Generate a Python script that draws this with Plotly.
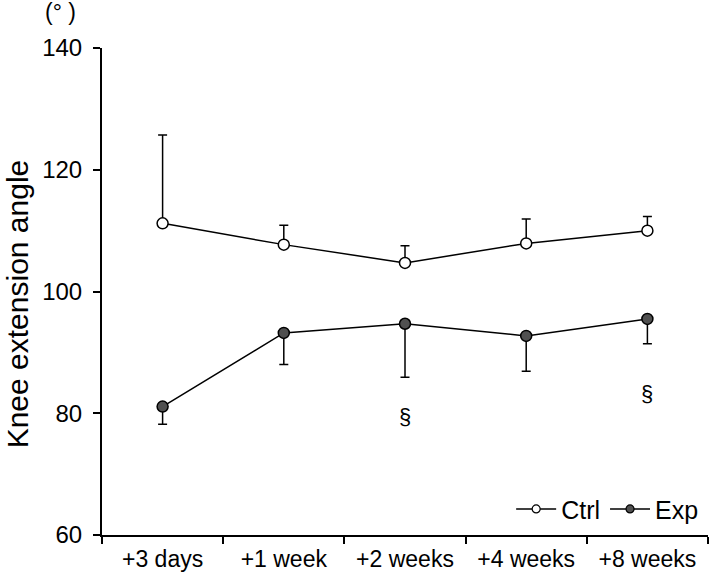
import plotly.graph_objects as go

# time points
periodi = ['+3 days', '+1 week', '+2 weeks', '+4 weeks', '+8 weeks']

# Ctrl group: mean and upper error (SD)
ctrl_media = [111.2, 107.7, 104.7, 107.9, 110.0]
ctrl_err = [14.5, 3.2, 2.8, 4.0, 2.3]

# Exp group: mean and lower error (SD)
exp_media = [81.1, 93.2, 94.7, 92.7, 95.5]
exp_err = [2.9, 5.2, 8.8, 5.8, 4.1]

# significance marks
sig_idx = [2, 4]
sig_y = [79.4, 83.2]

FONT = "Liberation Sans, Arial, sans-serif"

fig = go.Figure()

fig.add_trace(go.Scatter(
    x=periodi, y=ctrl_media, name='Ctrl',
    mode='lines+markers', showlegend=False,
    line=dict(color='black', width=1.5),
    marker=dict(size=11, color='white', line=dict(color='black', width=1.5)),
    error_y=dict(type='data', symmetric=False, array=ctrl_err,
                 arrayminus=[0] * len(ctrl_err),
                 color='black', thickness=1.5, width=4.5),
))

fig.add_trace(go.Scatter(
    x=periodi, y=exp_media, name='Exp',
    mode='lines+markers', showlegend=False,
    line=dict(color='black', width=1.5),
    marker=dict(size=11, color='#505050', line=dict(color='black', width=1.5)),
    error_y=dict(type='data', symmetric=False, array=[0] * len(exp_err),
                 arrayminus=exp_err,
                 color='black', thickness=1.5, width=4.5),
))

# legend entries (smaller symbols, as in the figure)
fig.add_trace(go.Scatter(
    x=[None], y=[None], name='Ctrl',
    mode='lines+markers',
    line=dict(color='black', width=1.5),
    marker=dict(size=8, color='white', line=dict(color='black', width=1.2)),
))
fig.add_trace(go.Scatter(
    x=[None], y=[None], name='Exp',
    mode='lines+markers',
    line=dict(color='black', width=1.5),
    marker=dict(size=8, color='#505050', line=dict(color='black', width=1.2)),
))

for i, yv in zip(sig_idx, sig_y):
    fig.add_annotation(x=i, y=yv, xref='x', yref='y', text='§',
                       showarrow=False, font=dict(size=22, color='black', family=FONT))

fig.add_annotation(xref='paper', yref='paper', x=-0.069, y=1.073,
                   xanchor='center', yanchor='middle',
                   text='(° )', showarrow=False,
                   font=dict(size=23, color='black', family=FONT))

fig.add_annotation(xref='paper', yref='paper', x=-0.14, y=0.474,
                   xanchor='center', yanchor='middle', textangle=-90,
                   text='Knee extension angle', showarrow=False,
                   font=dict(size=30, color='black', family=FONT))

fig.update_layout(
    width=709, height=573,
    margin=dict(l=102, r=1, t=48, b=36),
    paper_bgcolor='white', plot_bgcolor='white',
    font=dict(family=FONT, size=22, color='black'),
    showlegend=True,
    legend=dict(orientation='h', x=0.992, xanchor='right', y=0.053, yanchor='middle',
                font=dict(size=25), bgcolor='rgba(0,0,0,0)',
                itemwidth=40, tracegroupgap=0),
    xaxis=dict(
        type='category', range=[-0.5, 4.5], showgrid=False, zeroline=False,
        showline=True, linecolor='black', linewidth=2,
        ticks='outside', tickson='boundaries', ticklen=7, tickwidth=2, tickcolor='black',
        tickfont=dict(size=23), ticklabelstandoff=2,
    ),
    yaxis=dict(
        range=[60, 140], tickvals=[60, 80, 100, 120, 140],
        showgrid=False, zeroline=False,
        showline=True, linecolor='black', linewidth=2,
        ticks='outside', ticklen=7, tickwidth=2, tickcolor='black',
        tickfont=dict(size=24), ticklabelstandoff=6,
    ),
)

# drop the default 8px page margin so the figure fills the window exactly
fig.write_html("out.html", config={'displayModeBar': False},
               post_script="document.body.style.margin='0px';")
